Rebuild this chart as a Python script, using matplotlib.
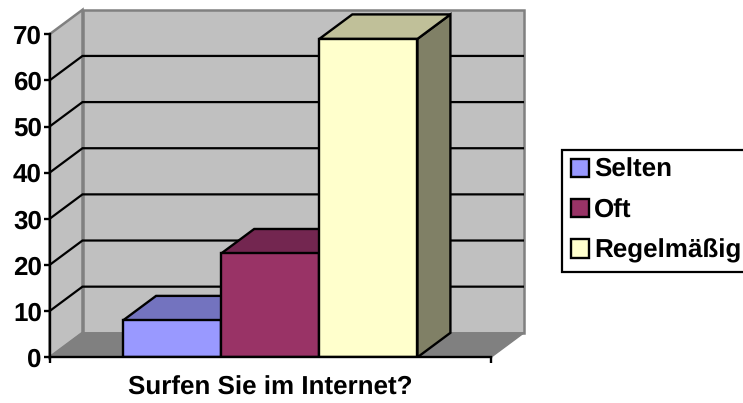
import matplotlib
matplotlib.use('Agg')
import matplotlib.pyplot as plt
from matplotlib.patches import Polygon

plt.rcParams['font.family'] = ['Liberation Sans', 'DejaVu Sans']
plt.rcParams['font.weight'] = 'bold'
plt.rcParams['text.hinting'] = 'none'
plt.rcParams['text.hinting_factor'] = 1

series = ['Selten', 'Oft', 'Regelmäßig']
values = [8, 22.5, 69]
front_colors = ['#9999ff', '#993366', '#ffffcc']
top_colors = ['#7373bf', '#732650', '#c0c099']
side_colors = ['#4d4d80', '#4d1a33', '#808066']
category = 'Surfen Sie im Internet?'
y_ticks = [0, 10, 20, 30, 40, 50, 60, 70]
grid_values = [10, 20, 30, 40, 50, 60]
x_span = 4.5
gap = 0.75
W, H = 743, 403

fig = plt.figure(figsize=(W / 100, H / 100), dpi=100)
LEFT, RIGHT, BOTTOM, TOP = 49.5, 524.0, 357.3, 9.8
ax = fig.add_axes([LEFT / W, 1 - BOTTOM / H, (RIGHT - LEFT) / W, (BOTTOM - TOP) / H])
px_x = (491.0 - LEFT) / x_span
px_y = (357.3 - 34.3) / 70.0
dx = (RIGHT - 491.0) / px_x
dy = 24.5 / px_y
ax.set_xlim(0, x_span + dx)
ax.set_ylim(0, 70 + dy)
ax.patch.set_visible(False)

# walls and floor
ax.add_patch(Polygon([(dx, dy), (x_span + dx, dy), (x_span + dx, 70 + dy), (dx, 70 + dy)],
                     fc='#c0c0c0', ec='#808080', lw=1.8, clip_on=False, zorder=1))
ax.add_patch(Polygon([(0, 0), (dx, dy), (dx, 70 + dy), (0, 70)],
                     fc='#c0c0c0', ec='#808080', lw=1.8, clip_on=False, zorder=1))
ax.add_patch(Polygon([(0, 0), (x_span, 0), (x_span + dx, dy), (dx, dy)],
                     fc='#808080', ec='#808080', lw=1, clip_on=False, zorder=1))

# gridlines
for v in grid_values:
    ax.plot([0, dx, x_span + dx - 0.01], [v, v + dy, v + dy], color='black', lw=1.6,
            solid_joinstyle='miter', zorder=2)

# bars
for i, (name, val) in enumerate(zip(series, values)):
    x0 = gap + i
    x1 = x0 + 1
    z = 3 + i
    ax.add_patch(Polygon([(x1, 0), (x1 + dx, dy), (x1 + dx, val + dy), (x1, val)],
                         fc=side_colors[i], ec='black', lw=1.7, zorder=z, joinstyle='miter'))
    ax.add_patch(Polygon([(x0, val), (x1, val), (x1 + dx, val + dy), (x0 + dx, val + dy)],
                         fc=top_colors[i], ec='black', lw=1.7, zorder=z, joinstyle='miter'))
    ax.bar(x0 + 0.5, val, width=1, color=front_colors[i], edgecolor='black', linewidth=1.7,
           zorder=z + 0.5, label=name)

for s in ['top', 'right']:
    ax.spines[s].set_visible(False)
ax.spines['left'].set_bounds(0, 70)
ax.spines['bottom'].set_bounds(0, x_span)
for s in ['left', 'bottom']:
    ax.spines[s].set_linewidth(1.7)
    ax.spines[s].set_zorder(10)

ax.set_yticks(y_ticks)
ax.set_xticks([0, x_span])
ax.set_xticklabels(['', ''])
ax.tick_params(axis='y', length=4, width=1.7, pad=1.5, labelsize=18.6)
ax.tick_params(axis='x', length=4, width=1.7)
for t in ax.get_yticklabels():
    t.set_fontweight('bold')

fig.text(270 / W, 1 - 388 / H, category, ha='center', va='center', fontsize=18.6, fontweight='bold')

leg = ax.legend(loc='upper left', bbox_to_anchor=(562.3 / W, 1 - 149.7 / H), bbox_transform=fig.transFigure,
                fontsize=18.6, frameon=True, fancybox=False, framealpha=1, edgecolor='black',
                borderaxespad=0, borderpad=0.33, handlelength=0.7, handleheight=0.7,
                handletextpad=0.2, labelspacing=0.62)
leg.get_frame().set_linewidth(1.6)
leg.set_zorder(20)
for h in leg.legend_handles:
    h.set_linewidth(1.7)
    h.set_edgecolor('black')

fig.savefig('out.png', dpi=100)
